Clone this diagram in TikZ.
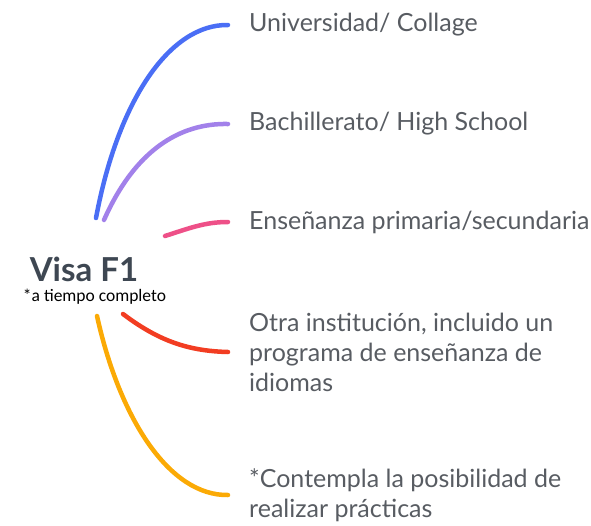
\documentclass[tikz,border=0pt]{standalone}
\usepackage{fontspec}
\setmainfont{Lato}
\newfontfamily\notefont{Carlito}
\definecolor{txtgray}{HTML}{585C62}
\definecolor{rootgray}{HTML}{3E4752}
\definecolor{cblue}{HTML}{4A6EF5}
\definecolor{cpurple}{HTML}{A281EA}
\definecolor{cpink}{HTML}{EE5088}
\definecolor{cred}{HTML}{F23D22}
\definecolor{corange}{HTML}{FBAA05}
\begin{document}
\begin{tikzpicture}[
    x=1pt, y=-1pt,
    % Branch labels
    leaf/.style={anchor=west, inner xsep=21pt, inner ysep=0pt, align=left, text=txtgray,
        font=\fontsize{25}{30}\selectfont},
    % Branch lines
    branch/.style={line width=4.5pt, line cap=round},
]
\useasboundingbox (0,0) rectangle (591,525);

% Central topic
\node[font=\fontsize{33}{36}\selectfont\bfseries, text=rootgray] (visa) at (84, 269) {Visa F1};
\node[font=\notefont\fontsize{17.5}{20}\selectfont, inner sep=0pt] (note) at (94.5, 297) {*a tiempo completo};

% Start points of the branches
\coordinate (s1) at (96, 218);
\coordinate (s2) at (104, 220);
\coordinate (s3) at (165, 236);
\coordinate (s4) at (123, 314);
\coordinate (s5) at (97, 316);

% Leaves
\node[leaf] (uni) at (228, 25) {Universidad/ Collage};
\node[leaf] (bach) at (228, 124) {Bachillerato/ High School};
\node[leaf] (prim) at (228, 222) {Enseñanza primaria/secundaria};
\node[leaf] (otra) at (228, 352) {Otra institución, incluido un\\programa de enseñanza de\\idiomas};
\node[leaf] (pract) at (228, 495) {*Contempla la posibilidad de\\realizar prácticas};

% Branches
\draw[branch, cblue] (s1) .. controls (118, 100) and (170, 24) .. (uni.west);
\draw[branch, cpurple] (s2) .. controls (135, 150) and (180, 123) .. (bach.west);
\draw[branch, cpink] (s3) .. controls (190, 228) and (205, 222) .. (prim.west);
\draw[branch, cred] (s4) .. controls (160, 342) and (190, 351) .. (otra.west);
\draw[branch, corange] (s5) .. controls (120, 420) and (170, 496) .. (pract.west);

\end{tikzpicture}
\end{document}
